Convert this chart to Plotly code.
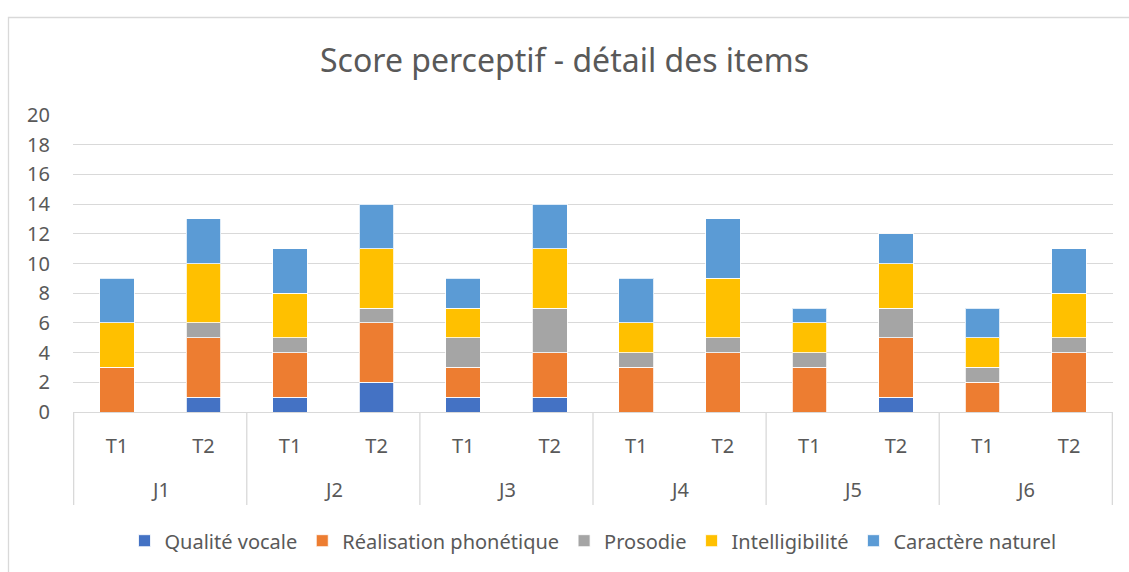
import plotly.graph_objects as go

groups = ["J1", "J2", "J3", "J4", "J5", "J6"]
times = ["T1", "T2"]
series_names = ["Qualité vocale", "Réalisation phonétique", "Prosodie", "Intelligibilité", "Caractère naturel"]
colors = ["#4472C4", "#ED7D31", "#A5A5A5", "#FFC000", "#5B9BD5"]

qualite = [0, 1, 1, 2, 1, 1, 0, 0, 0, 1, 0, 0]
realisation = [3, 4, 3, 4, 2, 3, 3, 4, 3, 4, 2, 4]
prosodie = [0, 1, 1, 1, 2, 3, 1, 1, 1, 2, 1, 1]
intelligibilite = [3, 4, 3, 4, 2, 4, 2, 4, 2, 3, 2, 3]
caractere = [3, 3, 3, 3, 2, 3, 3, 4, 1, 2, 2, 3]
values = [qualite, realisation, prosodie, intelligibilite, caractere]

cats = [f"{g}-{t}" for g in groups for t in times]
tick_text = [t for g in groups for t in times]

FONT = "Noto Sans"
GREY = "#595959"
FS = 20

fig = go.Figure()
for name, col, vals in zip(series_names, colors, values):
    fig.add_trace(go.Bar(
        x=cats, y=vals, name=name,
        marker=dict(color=col, line=dict(color="rgba(255,255,255,0.8)", width=1)),
    ))

shapes = []
annotations = []
for i, g in enumerate(groups):
    annotations.append(dict(x=2 * i + 0.5, xref="x", y=-78 / 300, yref="paper",
                            text=g, showarrow=False, font=dict(size=FS, color=GREY, family=FONT),
                            yanchor="middle"))
for i in range(len(groups) + 1):
    shapes.append(dict(type="line", xref="x", yref="paper", x0=2 * i - 0.5, x1=2 * i - 0.5,
                       y0=0, y1=-94 / 300, line=dict(color="#D9D9D9", width=1.3)))
shapes.append(dict(type="rect", xref="paper", yref="paper",
                   x0=(8.5 - 73) / 1040, x1=1.2, y0=-0.6, y1=(413 - 14.5) / 300,
                   line=dict(color="#D9D9D9", width=1.3), fillcolor="rgba(0,0,0,0)", layer="below"))

fig.update_layout(
    barmode="stack",
    bargap=0.6,
    width=1129, height=572,
    margin=dict(l=73, r=16, t=115, b=157),
    paper_bgcolor="white", plot_bgcolor="white",
    title=dict(text="Score perceptif - détail des items", x=0.5, xanchor="center",
               y=1 - 61 / 572, yanchor="middle",
               font=dict(size=32, color=GREY, family=FONT)),
    font=dict(family=FONT, color=GREY, size=FS),
    showlegend=True,
    legend=dict(orientation="h", x=0.5, xanchor="center", y=-130 / 300, yanchor="middle",
                font=dict(size=FS, color=GREY, family=FONT), traceorder="normal",
                itemwidth=30),
    shapes=shapes,
    annotations=annotations,
)
fig.update_xaxes(type="category", categoryorder="array", categoryarray=cats,
                 tickmode="array", tickvals=cats, ticktext=tick_text,
                 ticks="", showline=True, linecolor="#D9D9D9", linewidth=1.3,
                 tickfont=dict(size=FS, color=GREY, family=FONT), ticklabelstandoff=16,
                 showgrid=False)
fig.update_yaxes(range=[0, 20], dtick=2, showgrid=True, gridcolor="#D9D9D9", gridwidth=1.3,
                 zeroline=False, ticks="", tickfont=dict(size=FS, color=GREY, family=FONT),
                 ticklabelstandoff=22)

fig.write_html("out.html", config={"displayModeBar": False},
               post_script="document.body.style.margin='0';")
